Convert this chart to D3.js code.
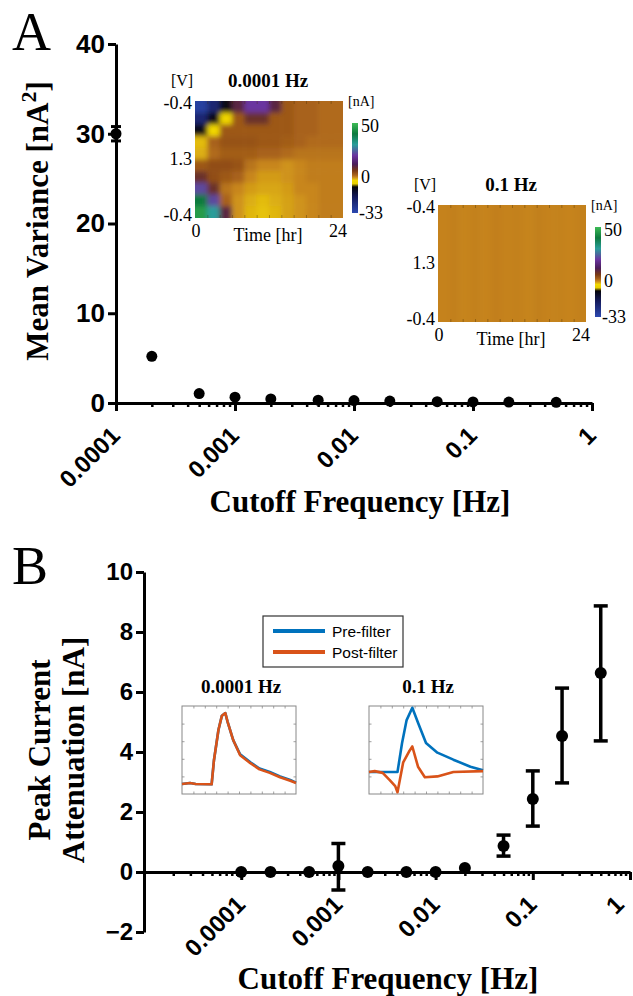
<!DOCTYPE html>
<html>
<head>
<meta charset="utf-8">
<script src="https://cdn.jsdelivr.net/npm/d3@7"></script>
<style>
body { margin: 0; background: #fff; }
svg { display: block; }
</style>
</head>
<body>
<svg width="633" height="996"></svg>
<script>
// ---- data, panel A ----
const freqA = [0.0001, 0.0002, 0.0005, 0.001, 0.002, 0.005, 0.01, 0.02, 0.05, 0.1, 0.2, 0.5];
const varA  = [30, 5.2, 1.05, 0.65, 0.45, 0.32, 0.27, 0.22, 0.15, 0.12, 0.1, 0.08];
const errA  = [0.8, 0, 0, 0, 0, 0, 0, 0, 0, 0, 0, 0];
const yTicksA = [0, 10, 20, 30, 40];

// ---- data, panel B ----
const freqB  = [0.0001, 0.0002, 0.0005, 0.001, 0.002, 0.005, 0.01, 0.02, 0.05, 0.1, 0.2, 0.5];
const attB   = [0, 0, 0, 0.2, 0, 0, 0, 0.13, 0.87, 2.43, 4.53, 6.63];
const attLoB = [0, 0, 0, -0.6, 0, 0, 0, 0.13, 0.53, 1.53, 2.97, 4.37];
const attHiB = [0, 0, 0, 0.95, 0, 0, 0, 0.13, 1.23, 3.37, 6.13, 8.87];
const yTicksB = [-2, 0, 2, 4, 6, 8, 10];

const xTickVals = [0.0001, 0.001, 0.01, 0.1, 1];
const xTickLabels = ["0.0001", "0.001", "0.01", "0.1", "1"];

// heatmap colour bar (nA)
const cbValues = [50, 40, 30, 20, 12, 6, 2, 0, -1.5, -3, -6, -9, -18, -33];
const cbColors = ["#3dbb55", "#0d7a3e", "#2a9d9a", "#6a35a0", "#4a1d5a", "#7a3a14", "#a8621a",
                  "#c8861e", "#dcae14", "#f2d800", "#e8d000", "#05050a", "#141a5a", "#2c48b0"];

// 0.0001 Hz heatmap, rows -0.4 V (top) -> 1.3 V -> -0.4 V, columns 0..24 hr
const heat1 = [
  [-30, -22, -10, 10, 20, 20, 10,  3,  2,  2, 1.5, 1.5],
  [-22, -10,  -4,  3,  8,  8,  3,  3,  2,  2, 1.5, 1.5],
  [-10,  -3,   3,  3,  3,  3,  3,  3,  2,  2, 1.5, 1.5],
  [ -2,   2, 3.5, 3.5, 3.5, 3, 3, 2.5,  2, 1.5, 1.5, 1.5],
  [-1.5, 1.5, 2.5, 2.5, 2.5, 2, 2, 1.5, 1,  1,  1,   1],
  [  3,   4,   4, 3.5,  1,  0,  0, -0.5, 0, 0.5, 0.5, 0.5],
  [  8,   4,   3,  2,   0, -0.8, -0.8, -0.5, 0, 0.5, 0.5, 0.5],
  [ 22,   8,   1,  0, -0.8, -1.2, -1.2, -0.8, 0, 0, 0.5, 0.5],
  [ 40,  22,   2, -0.5, -1.5, -2, -1.5, -1, -0.5, 0, 0.5, 0.5],
  [ 45,  30,  10, -0.5, -1.8, -2.2, -1.8, -1, -0.5, 0, 0.5, 0.5]
];
// 0.1 Hz heatmap (uniform, faint vertical stripes)
const heat2 = [
  [0.2, 0.35, 0.1, 0.3, 0.15, 0.4, 0.2, 0.3, 0.1, 0.35, 0.2, 0.25, 0.15, 0.3],
  [0.2, 0.35, 0.1, 0.3, 0.15, 0.4, 0.2, 0.3, 0.1, 0.35, 0.2, 0.25, 0.15, 0.3]
];

// inset traces (time and current in arbitrary units, 0..100)
const tIn1    = [0, 7, 12, 26, 28, 32, 35, 38, 40, 45, 51, 60, 68, 77, 86, 95, 100];
const preIn1  = [11.4, 12.5, 11.4, 11, 38, 73, 89, 92, 82, 61, 45, 36, 29, 25, 20, 16, 13];
const postIn1 = [11.4, 12.5, 11.4, 11, 38, 73, 89, 92, 82, 61, 44, 35, 28, 24, 19, 15, 12.5];
const tIn2Pre  = [0, 25, 29, 33, 38, 43, 50, 60, 74, 89, 100];
const preIn2   = [25, 25, 58, 84, 98, 81, 58, 47, 39, 31, 27];
const tIn2Post = [0, 5, 12, 18, 23, 25, 30, 35, 38, 43, 49, 60, 74, 100];
const postIn2  = [25, 26, 24, 16, 9, 2, 36, 48, 54, 31, 19, 20, 25, 26];

const SANS = "'Liberation Sans', Arial, sans-serif";
const SERIF = "'Liberation Serif', 'Times New Roman', serif";

const svg = d3.select("svg");
const defs = svg.append("defs");

function styleAxis(g, w) {
  g.selectAll("path, line").attr("stroke", "#000").attr("stroke-width", w);
}

// log x axis with minor ticks and rotated labels
function logAxis(x, y0, lastShift) {
  const all = x.ticks();
  const minor = all.filter(d => Math.abs(Math.log10(d) - Math.round(Math.log10(d))) > 1e-6);
  const gMinor = svg.append("g").attr("transform", `translate(0,${y0})`)
    .call(d3.axisBottom(x).tickValues(minor).tickSize(4).tickSizeOuter(0).tickFormat(""));
  styleAxis(gMinor, 2.5);
  gMinor.select(".domain").attr("stroke-width", 3);
  const gMajor = svg.append("g").attr("transform", `translate(0,${y0})`)
    .call(d3.axisBottom(x).tickValues(xTickVals).tickSize(8).tickSizeOuter(0)
      .tickFormat((d, i) => xTickLabels[i]));
  styleAxis(gMajor, 3);
  gMajor.select(".domain").remove();
  const n = xTickVals.length;
  gMajor.selectAll("text")
    .attr("x", 0).attr("y", 0).attr("dy", 0)
    .attr("text-anchor", "end")
    .attr("transform", (d, i) => `translate(${5 - (i === n - 1 ? lastShift : 0)},34) rotate(-45)`)
    .attr("fill", "#000")
    .style("font-family", SANS).style("font-weight", "bold").style("font-size", "24px");
}

function yAxis(y, x0, ticks, fs) {
  const g = svg.append("g").attr("transform", `translate(${x0},0)`)
    .call(d3.axisLeft(y).tickValues(ticks).tickSize(8).tickSizeOuter(0).tickPadding(3));
  styleAxis(g, 3);
  g.selectAll("text").attr("fill", "#000")
    .style("font-family", SANS).style("font-weight", "bold").style("font-size", fs + "px");
}

// ================= PANEL A =================
const xA = d3.scaleLog().domain([1e-4, 1]).range([116, 592]);
const yA = d3.scaleLinear().domain([0, 40]).range([403, 44]);

svg.append("text").attr("x", 12).attr("y", 50).text("A")
  .style("font-family", SERIF).style("font-size", "54px");

logAxis(xA, yA(0), 0);
yAxis(yA, 116, yTicksA, 26);

svg.append("text").attr("x", 360).attr("y", 512).attr("text-anchor", "middle")
  .style("font-family", SERIF).style("font-weight", "bold").style("font-size", "31px")
  .text("Cutoff Frequency [Hz]");

const yTitleA = svg.append("text").attr("transform", "translate(48,221) rotate(-90)")
  .attr("text-anchor", "middle")
  .style("font-family", SERIF).style("font-weight", "bold").style("font-size", "31px");
yTitleA.append("tspan").text("Mean Variance [nA");
yTitleA.append("tspan").attr("dy", -12).style("font-size", "22px").text("2");
yTitleA.append("tspan").attr("dy", 12).text("]");

// error bars A
const ptsA = freqA.map((f, i) => ({ f, v: varA[i], e: errA[i] }));
const ebA = svg.append("g").attr("stroke", "#000").attr("stroke-width", 3);
ptsA.filter(d => d.e > 0).forEach(d => {
  const cx = xA(d.f);
  ebA.append("line").attr("x1", cx).attr("x2", cx).attr("y1", yA(d.v - d.e)).attr("y2", yA(d.v + d.e));
  [d.v - d.e, d.v + d.e].forEach(v => ebA.append("line")
    .attr("x1", cx - 5).attr("x2", cx + 5).attr("y1", yA(v)).attr("y2", yA(v)));
});
svg.append("g").selectAll("circle").data(ptsA).join("circle")
  .attr("cx", d => xA(d.f)).attr("cy", d => yA(d.v)).attr("r", 5.5).attr("fill", "#000");

// ---- heatmaps ----
const cScale = d3.scaleLinear().domain(cbValues).range(cbColors).clamp(true);

defs.append("filter").attr("id", "hblur")
  .attr("x", "-10%").attr("y", "-10%").attr("width", "120%").attr("height", "120%")
  .append("feGaussianBlur").attr("stdDeviation", 2.6);

const grad = defs.append("linearGradient").attr("id", "cbgrad")
  .attr("x1", 0).attr("x2", 0).attr("y1", 0).attr("y2", 1);
cbValues.forEach((v, i) => grad.append("stop")
  .attr("offset", (50 - v) / 83).attr("stop-color", cbColors[i]));

function heatmap(id, matrix, x0, y0, title) {
  const w = 148, h = 117;
  const nc = matrix[0].length, nr = matrix.length;
  const xs = d3.scaleBand().domain(d3.range(nc)).range([x0, x0 + w]);
  const ys = d3.scaleBand().domain(d3.range(nr)).range([y0, y0 + h]);
  defs.append("clipPath").attr("id", "clip" + id)
    .append("rect").attr("x", x0).attr("y", y0).attr("width", w).attr("height", h);
  const cells = [];
  matrix.forEach((row, r) => row.forEach((v, c) => cells.push({ r, c, v })));
  const pad = 10;
  svg.append("g").attr("clip-path", `url(#clip${id})`)
    .append("g").attr("filter", "url(#hblur)")
    .selectAll("rect").data(cells).join("rect")
    .attr("x", d => xs(d.c) - (d.c === 0 ? pad : 0))
    .attr("y", d => ys(d.r) - (d.r === 0 ? pad : 0))
    .attr("width", d => xs.bandwidth() + 0.6 + (d.c === 0 || d.c === nc - 1 ? pad : 0))
    .attr("height", d => ys.bandwidth() + 0.6 + (d.r === 0 || d.r === nr - 1 ? pad : 0))
    .attr("fill", d => cScale(d.v));

  // small edge ticks
  const tx = d3.scaleLinear().domain([0, 24]).range([x0, x0 + w]);
  [[d3.axisBottom, y0 + h], [d3.axisTop, y0]].forEach(([ax, yy]) => {
    const g = svg.append("g").attr("transform", `translate(0,${yy})`)
      .call(ax(tx).tickValues(d3.range(2, 24, 2)).tickSize(-3).tickFormat(""));
    g.select(".domain").remove();
    g.selectAll("line").attr("stroke", "rgba(70,45,0,0.45)").attr("stroke-width", 0.8);
  });

  const lab = (x, y, t, anchor, size, bold) => svg.append("text")
    .attr("x", x).attr("y", y).attr("text-anchor", anchor || "start")
    .style("font-family", SERIF).style("font-size", (size || 18) + "px")
    .style("font-weight", bold ? "bold" : "normal").text(t);
  lab(x0 - 13, y0 - 15, "[V]", "middle", 16);
  lab(x0 + 73, y0 - 14, title, "middle", 19, true);
  lab(x0 - 3, y0 + 8, "-0.4", "end");
  lab(x0 - 3, y0 + 64, "1.3", "end");
  lab(x0 - 3, y0 + 120, "-0.4", "end");
  lab(x0 + 1, y0 + 136, "0", "middle");
  lab(x0 + 143, y0 + 136, "24", "middle");
  lab(x0 + 73, y0 + 140, "Time [hr]", "middle");

  // colour bar
  const cy = d3.scaleLinear().domain([50, -33]).range([y0 + 22, y0 + 112]);
  svg.append("rect").attr("x", x0 + 157).attr("y", cy(50)).attr("width", 6)
    .attr("height", cy(-33) - cy(50)).attr("fill", "url(#cbgrad)");
  lab(x0 + 153, y0 + 5, "[nA]", "start", 14);
  lab(x0 + 166, cy(50) + 9, "50", "start");
  lab(x0 + 166, cy(0) + 6, "0", "start");
  lab(x0 + 164, cy(-33) + 6, "-33", "start");
}

heatmap(1, heat1, 195, 101, "0.0001 Hz");
heatmap(2, heat2, 438, 205, "0.1 Hz");

// ================= PANEL B =================
const xB = d3.scaleLog().domain([1e-5, 1]).range([144, 630]);
const yB = d3.scaleLinear().domain([-2, 10]).range([932, 572]);

svg.append("text").attr("x", 12).attr("y", 584).text("B")
  .style("font-family", SERIF).style("font-size", "54px");

logAxis(xB, yB(0), 10);
yAxis(yB, 144, yTicksB, 24);

svg.append("text").attr("x", 388).attr("y", 989).attr("text-anchor", "middle")
  .style("font-family", SERIF).style("font-weight", "bold").style("font-size", "31px")
  .text("Cutoff Frequency [Hz]");

const yTitleB = svg.append("text").attr("transform", "translate(0,750) rotate(-90)")
  .attr("text-anchor", "middle")
  .style("font-family", SERIF).style("font-weight", "bold").style("font-size", "31px");
yTitleB.append("tspan").attr("x", 0).attr("y", 50).text("Peak Current");
yTitleB.append("tspan").attr("x", 0).attr("y", 84).text("Attenuation [nA]");

const ptsB = freqB.map((f, i) => ({ f, v: attB[i], lo: attLoB[i], hi: attHiB[i] }));
const ebB = svg.append("g").attr("stroke", "#000").attr("stroke-width", 3.5);
ptsB.filter(d => d.hi - d.lo > 0.01).forEach(d => {
  const cx = xB(d.f);
  ebB.append("line").attr("x1", cx).attr("x2", cx).attr("y1", yB(d.lo)).attr("y2", yB(d.hi));
  [d.lo, d.hi].forEach(v => ebB.append("line")
    .attr("x1", cx - 7).attr("x2", cx + 7).attr("y1", yB(v)).attr("y2", yB(v)));
});
svg.append("g").selectAll("circle").data(ptsB).join("circle")
  .attr("cx", d => xB(d.f)).attr("cy", d => yB(d.v)).attr("r", 6).attr("fill", "#000");

// legend
const BLUE = "#0072bd", ORANGE = "#d95319";
svg.append("rect").attr("x", 263).attr("y", 616).attr("width", 140).attr("height", 51)
  .attr("fill", "#fff").attr("stroke", "#333").attr("stroke-width", 1.2);
[[BLUE, "Pre-filter", 631], [ORANGE, "Post-filter", 652]].forEach(([c, t, yy]) => {
  svg.append("line").attr("x1", 273).attr("x2", 325).attr("y1", yy).attr("y2", yy)
    .attr("stroke", c).attr("stroke-width", 4);
  svg.append("text").attr("x", 332).attr("y", yy + 6).text(t)
    .style("font-family", SANS).style("font-size", "15.5px");
});

function inset(x0, y0, title, series) {
  const w = 114, h = 88;
  const x = d3.scaleLinear().domain([0, 100]).range([x0, x0 + w]);
  const y = d3.scaleLinear().domain([0, 100]).range([y0 + h, y0]);
  svg.append("text").attr("x", x0 + 59).attr("y", y0 - 13).attr("text-anchor", "middle")
    .style("font-family", SERIF).style("font-weight", "bold").style("font-size", "19px").text(title);
  svg.append("rect").attr("x", x0).attr("y", y0).attr("width", w).attr("height", h)
    .attr("fill", "#fff").attr("stroke", "#888").attr("stroke-width", 1);
  [[d3.axisBottom(x), `translate(0,${y0 + h})`, d3.range(10, 100, 10)],
   [d3.axisTop(x), `translate(0,${y0})`, d3.range(10, 100, 10)],
   [d3.axisLeft(y), `translate(${x0},0)`, d3.range(20, 100, 20)],
   [d3.axisRight(y), `translate(${x0 + w},0)`, d3.range(20, 100, 20)]].forEach(([ax, tr, tv]) => {
    const g = svg.append("g").attr("transform", tr)
      .call(ax.tickValues(tv).tickSize(-2.5).tickFormat(""));
    g.select(".domain").remove();
    g.selectAll("line").attr("stroke", "#888").attr("stroke-width", 0.8);
  });
  series.forEach(([ts, vs, col]) => {
    svg.append("path").datum(ts.map((t, i) => [t, vs[i]]))
      .attr("d", d3.line().x(d => x(d[0])).y(d => y(d[1])))
      .attr("fill", "none").attr("stroke", col).attr("stroke-width", 2.6)
      .attr("stroke-linejoin", "round");
  });
}

inset(182, 706, "0.0001 Hz", [[tIn1, preIn1, BLUE], [tIn1, postIn1, ORANGE]]);
inset(369, 706, "0.1 Hz", [[tIn2Pre, preIn2, BLUE], [tIn2Post, postIn2, ORANGE]]);
</script>
</body>
</html>
